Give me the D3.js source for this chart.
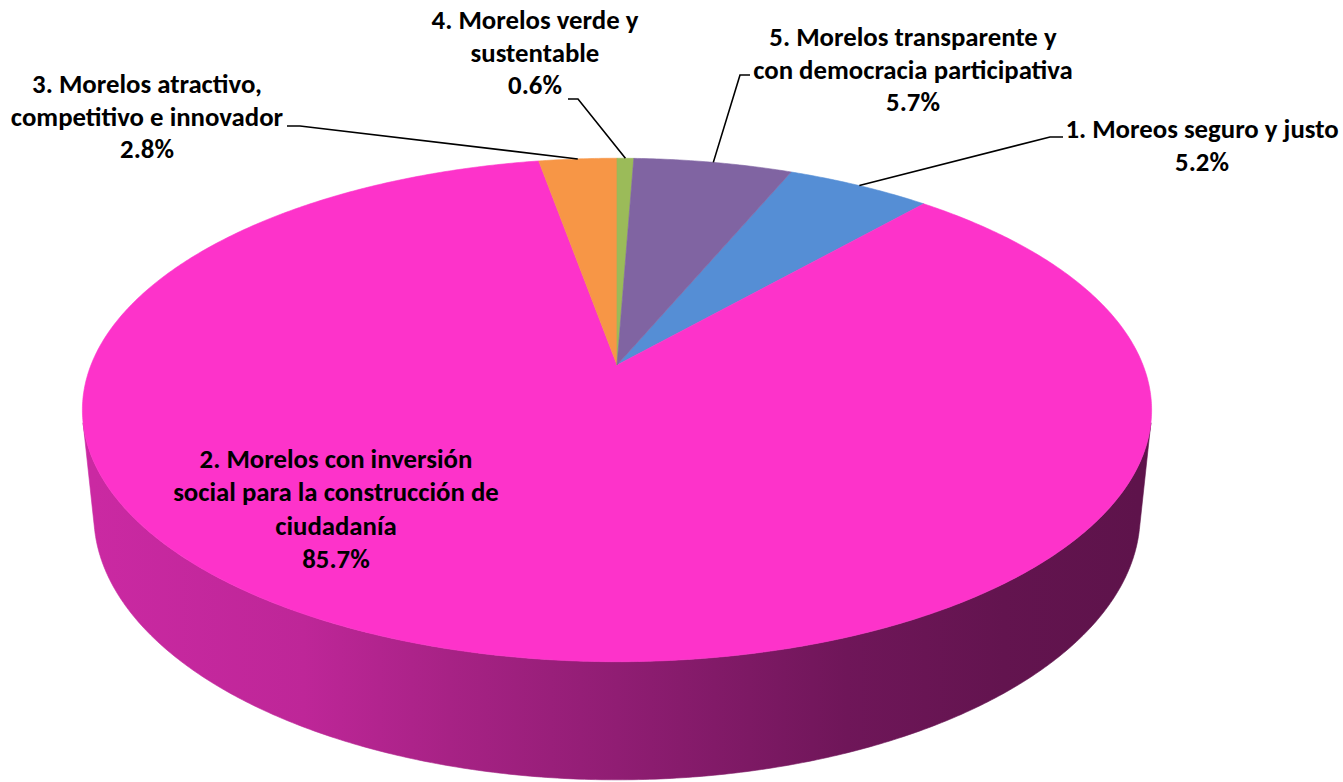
<!DOCTYPE html>
<html>
<head>
<meta charset="utf-8">
<script src="https://cdn.jsdelivr.net/npm/d3@7"></script>
<style>
    body { margin: 0; background: #fff; }
    text { font-family: Carlito, Calibri, Lato, sans-serif; font-weight: bold; }
</style>
</head>
<body>
<div id="chart"></div>
<script>
// data
var categories = [
    '1. Moreos seguro y justo',
    '2. Morelos con inversión social para la construcción de ciudadanía',
    '3. Morelos atractivo, competitivo e innovador',
    '4. Morelos verde y sustentable',
    '5. Morelos transparente y con democracia participativa'
];
var values = [5.2, 85.7, 2.8, 0.6, 5.7];
var labelLines = [
    ['1. Moreos seguro y justo'],
    ['2. Morelos con inversión', 'social para la construcción de', 'ciudadanía'],
    ['3. Morelos atractivo,', 'competitivo e innovador'],
    ['4. Morelos verde y', 'sustentable'],
    ['5. Morelos transparente y', 'con democracia participativa']
];

// styles
var colors = ['#558ED5', '#FD33CA', '#F79646', '#9BBB59', '#8064A2'];
var first_slice_angle = 22.68;

var chart_width = 1343;
var chart_height = 782;

// camera for the 3d look
var cam = { x0: 617, y0: 365, L: 4.96, a: 27.6 * Math.PI / 180, F: 2609, t: 0.227 };

function proj(x, y, z) {
    var ca = Math.cos(cam.a), sa = Math.sin(cam.a);
    var w = cam.L + y * ca - z * sa;
    return [cam.x0 + cam.F * x / w, cam.y0 - cam.F * (y * sa + z * ca) / w];
}
function rim(theta, z) {
    return proj(Math.sin(theta), Math.cos(theta), z);
}

var svg = d3.select('#chart')
    .append('svg')
    .attr('width', chart_width)
    .attr('height', chart_height);

var pie = d3.pie()
    .sort(null)
    .value(function(d) { return d; })
    .startAngle(first_slice_angle * Math.PI / 180)
    .endAngle(first_slice_angle * Math.PI / 180 + 2 * Math.PI);

var arcs = pie(values);

var line = d3.line();
var step = Math.PI / 360;

function samples(a0, a1) {
    var pts = [];
    var n = Math.max(2, Math.ceil((a1 - a0) / step));
    for (var i = 0; i <= n; i++) pts.push(a0 + (a1 - a0) * i / n);
    return pts;
}

// side walls, only the part facing the camera
var yLimit = -1 / (cam.L * Math.cos(cam.a));
var frontLo = Math.acos(yLimit);
var frontHi = 2 * Math.PI - frontLo;

var leftX = rim(frontHi, -cam.t)[0];
var rightX = rim(frontLo, -cam.t)[0];
var shade = [[0, .80], [.2, .75], [.34, .66], [.5, .57], [.72, .44], [.87, .39], [1, .37]];

var defs = svg.append('defs');
arcs.forEach(function(d, i) {
    var g = defs.append('linearGradient')
        .attr('id', 'side' + i)
        .attr('gradientUnits', 'userSpaceOnUse')
        .attr('x1', leftX).attr('x2', rightX)
        .attr('y1', 0).attr('y2', 0);
    var c = d3.rgb(colors[i]);
    shade.forEach(function(s) {
        g.append('stop')
            .attr('offset', s[0])
            .attr('stop-color', d3.rgb(c.r * s[1], c.g * s[1], c.b * s[1]).formatHex());
    });
});

arcs.forEach(function(d, i) {
    [0, 2 * Math.PI, -2 * Math.PI].forEach(function(off) {
        var lo = Math.max(d.startAngle + off, frontLo);
        var hi = Math.min(d.endAngle + off, frontHi);
        if (hi <= lo) return;
        var top = samples(lo, hi).map(function(a) { return rim(a, 0); });
        var bot = samples(lo, hi).reverse().map(function(a) { return rim(a, -cam.t); });
        svg.append('path')
            .attr('d', line(top.concat(bot)) + 'Z')
            .attr('fill', 'url(#side' + i + ')')
            .attr('stroke', 'url(#side' + i + ')')
            .attr('stroke-width', 0.6);
    });
});

// top face
var apex = proj(0, 0, 0);
svg.selectAll('path.slice')
    .data(arcs)
    .enter()
    .append('path')
    .attr('class', 'slice')
    .attr('d', function(d) {
        var pts = [apex].concat(samples(d.startAngle, d.endAngle).map(function(a) { return rim(a, 0); }));
        return line(pts) + 'Z';
    })
    .attr('fill', function(d, i) { return colors[i]; })
    .attr('stroke', function(d, i) { return colors[i]; })
    .attr('stroke-width', 0.6);

// label layout: centre x, first baseline, leader start and elbow
var layout = [
    { x: 1202, y: 138, leader: [[1063, 137], [1050, 137]] },
    { x: 336, y: 468, leader: null },
    { x: 147, y: 93, leader: [[287, 126], [300, 126]] },
    { x: 535, y: 29, leader: [[568, 99], [578, 99]] },
    { x: 913, y: 46, leader: [[750, 75], [740, 75]] }
];
var lineHeight = 32.5;
var pct = d3.format('.1f');

arcs.forEach(function(d, i) {
    var lay = layout[i];
    if (lay.leader) {
        var mid = (d.startAngle + d.endAngle) / 2;
        svg.append('path')
            .attr('d', line(lay.leader.concat([rim(mid, 0)])))
            .attr('fill', 'none')
            .attr('stroke', '#000')
            .attr('stroke-width', 1.6);
    }
    var rows = labelLines[i].concat([pct(values[i]) + '%']);
    var txt = svg.append('text')
        .attr('text-anchor', 'middle')
        .attr('font-size', 26.8)
        .attr('fill', '#000');
    rows.forEach(function(r, k) {
        txt.append('tspan')
            .attr('x', lay.x)
            .attr('y', lay.y + k * (i == 1 ? 33.3 : lineHeight))
            .text(r);
    });
});
</script>
</body>
</html>
